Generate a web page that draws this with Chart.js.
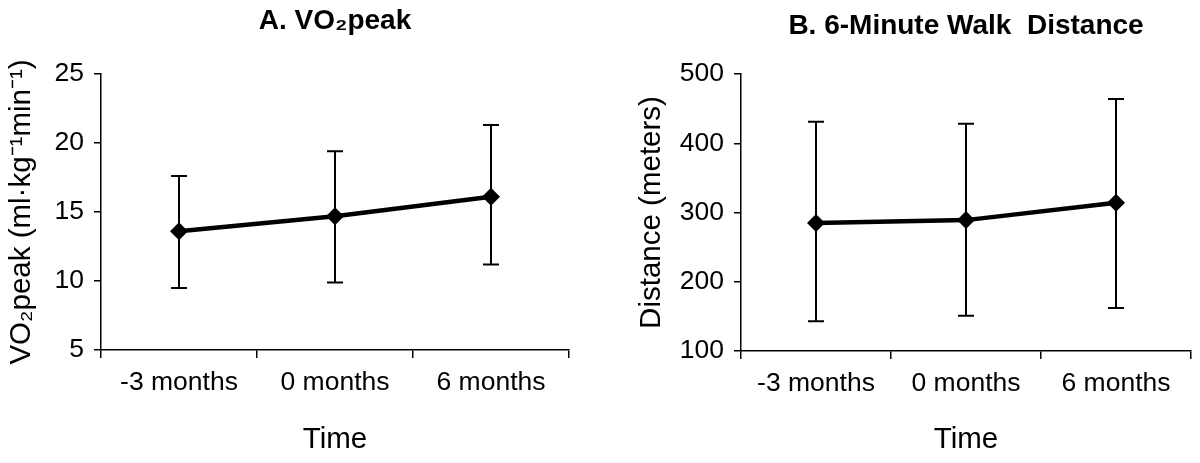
<!DOCTYPE html>
<html>
<head>
<meta charset="utf-8">
<title>VO2peak and 6-Minute Walk Distance</title>
<script src="https://cdn.jsdelivr.net/npm/chart.js"></script>
<style>
  html, body { margin: 0; padding: 0; background: #fff; }
  #wrap { position: relative; width: 1200px; height: 463px; }
  .panel { position: absolute; top: 0; width: 600px; height: 463px; }
</style>
</head>
<body>
<div id="wrap">
  <div class="panel" style="left:0"><canvas id="chartA" width="600" height="463"></canvas></div>
  <div class="panel" style="left:600px"><canvas id="chartB" width="600" height="463"></canvas></div>
</div>
<script>
// Categories (time points)
const timeLabels = ["-3 months", "0 months", "6 months"];

// A. VO2peak (ml/kg/min): mean and error bar ends
const vo2Mean = [13.6, 14.7, 16.1];
const vo2Low = [9.5, 9.9, 11.2];
const vo2High = [17.6, 19.4, 21.3];

// B. 6-minute walk distance (meters): mean and error bar ends
const walkMean = [285, 289, 314];
const walkLow = [143, 151, 162];
const walkHigh = [431, 428, 464];

const FONT = "'Liberation Sans', Arial, sans-serif";

// Draws vertical error bars with caps from the low/high arrays
const errorBarPlugin = {
  id: "errorBars",
  afterDatasetsDraw(chart, args, opts) {
    const ctx = chart.ctx;
    const x = chart.scales.x;
    const y = chart.scales.y;
    ctx.save();
    ctx.strokeStyle = "#000";
    ctx.lineWidth = 2;
    opts.low.forEach((lo, i) => {
      const px = x.getPixelForValue(i);
      const yLo = y.getPixelForValue(lo);
      const yHi = y.getPixelForValue(opts.high[i]);
      ctx.beginPath();
      ctx.moveTo(px, yLo);
      ctx.lineTo(px, yHi);
      ctx.moveTo(px - 8, yLo);
      ctx.lineTo(px + 8, yLo);
      ctx.moveTo(px - 8, yHi);
      ctx.lineTo(px + 8, yHi);
      ctx.stroke();
    });
    ctx.restore();
  },
};

function makeChart(canvasId, cfg) {
  return new Chart(document.getElementById(canvasId), {
    type: "line",
    data: {
      labels: timeLabels,
      datasets: [
        {
          data: cfg.mean,
          borderColor: "#000",
          borderWidth: 4.5,
          backgroundColor: "#000",
          pointStyle: "rectRot",
          pointRadius: 9,
          pointBackgroundColor: "#000",
          pointBorderColor: "#000",
          pointBorderWidth: 0,
          tension: 0,
          fill: false,
        },
      ],
    },
    options: {
      responsive: false,
      animation: false,
      events: [],
      layout: { padding: { left: 0, right: cfg.padRight, top: 0, bottom: 0 } },
      plugins: {
        legend: { display: false },
        tooltip: { enabled: false },
        title: {
          display: true,
          text: cfg.title,
          fullSize: false,
          color: "#000",
          font: { family: FONT, size: 28, weight: "bold" },
          padding: { top: cfg.titleTop, bottom: 74 - cfg.titleTop - 33.6 },
        },
        errorBars: { low: cfg.low, high: cfg.high },
      },
      scales: {
        x: {
          type: "category",
          offset: true,
          afterFit(scale) {
            scale.height = 463 - cfg.bottom;
          },
          grid: {
            offset: true,
            drawOnChartArea: false,
            drawTicks: true,
            tickLength: 8,
            color: "#000",
            lineWidth: 1.5,
          },
          border: { display: true, color: "#000", width: 1.5 },
          ticks: {
            color: "#000",
            padding: 9,
            font: { family: FONT, size: 26.5 },
          },
          title: {
            display: true,
            text: "Time",
            color: "#000",
            font: { family: FONT, size: 29.5 },
            padding: { top: 4, bottom: 5 },
          },
        },
        y: {
          min: cfg.min,
          max: cfg.max,
          afterFit(scale) {
            scale.width = cfg.axisLeft;
          },
          grid: {
            drawOnChartArea: false,
            drawTicks: true,
            tickLength: 7,
            color: "#000",
            lineWidth: 1.5,
          },
          border: { display: true, color: "#000", width: 1.5 },
          ticks: {
            stepSize: cfg.step,
            color: "#000",
            padding: 10,
            font: { family: FONT, size: 26.5 },
          },
          title: {
            display: true,
            text: cfg.yTitle,
            color: "#000",
            font: { family: FONT, size: 29.5 },
            padding: { top: cfg.yTitlePad, bottom: 0 },
          },
        },
      },
    },
    plugins: [errorBarPlugin],
  });
}

makeChart("chartA", {
  title: "A. VO\u2082peak",
  yTitle: "VO\u2082peak (ml\u00b7kg\u207b\u00b9min\u207b\u00b9)",
  mean: vo2Mean,
  low: vo2Low,
  high: vo2High,
  min: 5,
  max: 25,
  step: 5,
  axisLeft: 101,
  padRight: 31,
  titleTop: 4,
  bottom: 350,
  yTitlePad: 4,
});

makeChart("chartB", {
  title: "B. 6-Minute Walk  Distance",
  yTitle: "Distance (meters)",
  mean: walkMean,
  low: walkLow,
  high: walkHigh,
  min: 100,
  max: 500,
  step: 100,
  axisLeft: 141,
  padRight: 3,
  titleTop: 9,
  bottom: 351,
  yTitlePad: 34,
});
</script>
</body>
</html>
